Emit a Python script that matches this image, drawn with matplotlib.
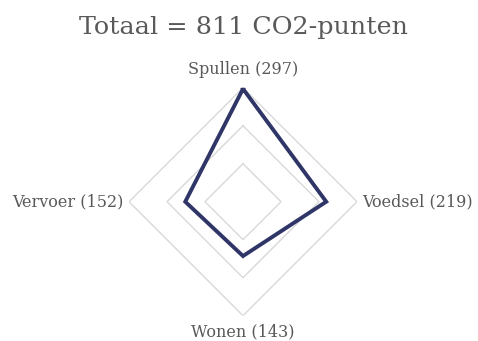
import numpy as np
import matplotlib
matplotlib.use("Agg")
import matplotlib.pyplot as plt

categories = ["Spullen", "Voedsel", "Wonen", "Vervoer"]
values = [297, 219, 143, 152]
ring_levels = [100, 200, 300]
title = "Totaal = 811 CO2-punten"

text_color = "#595959"
grid_color = "#d9d9d9"
line_color = "#2f3566"

fig = plt.figure(figsize=(4.78, 3.41), dpi=100)
ax = fig.add_axes([0.2699, 0.0742, 0.477, 0.6686], projection="polar")
ax.set_theta_offset(np.pi / 2)
ax.set_theta_direction(-1)
ax.set_ylim(0, ring_levels[-1])
ax.grid(False)
ax.spines["polar"].set_visible(False)
ax.set_xticks([])
ax.set_yticks([])
ax.patch.set_alpha(0)

n = len(categories)
angles = np.arange(n) * 2 * np.pi / n
closed = np.append(angles, angles[0])

# diamond-shaped grid rings
for r in ring_levels:
    ax.plot(closed, [r] * (n + 1), color=grid_color, lw=1.0, zorder=1)

ax.plot(closed, values + values[:1], color=line_color, lw=2.8,
        solid_joinstyle="miter", zorder=3)

labels = [f"{c} ({v})" for c, v in zip(categories, values)]
offsets = [(0, 18, "center", "center"),
           (5, 0, "left", "center"),
           (0, -16, "center", "center"),
           (-5, 0, "right", "center")]
for ang, lab, (dx, dy, ha, va) in zip(angles, labels, offsets):
    ax.annotate(lab, xy=(ang, ring_levels[-1]), xytext=(dx, dy),
                textcoords="offset pixels", ha=ha, va=va,
                fontsize=11.5, family="DejaVu Serif", color=text_color,
                annotation_clip=False)

fig.text(0.51, 0.918, title, ha="center", va="center", fontsize=18.3,
         family="DejaVu Serif", color=text_color)

fig.savefig("out.png", dpi=100)
